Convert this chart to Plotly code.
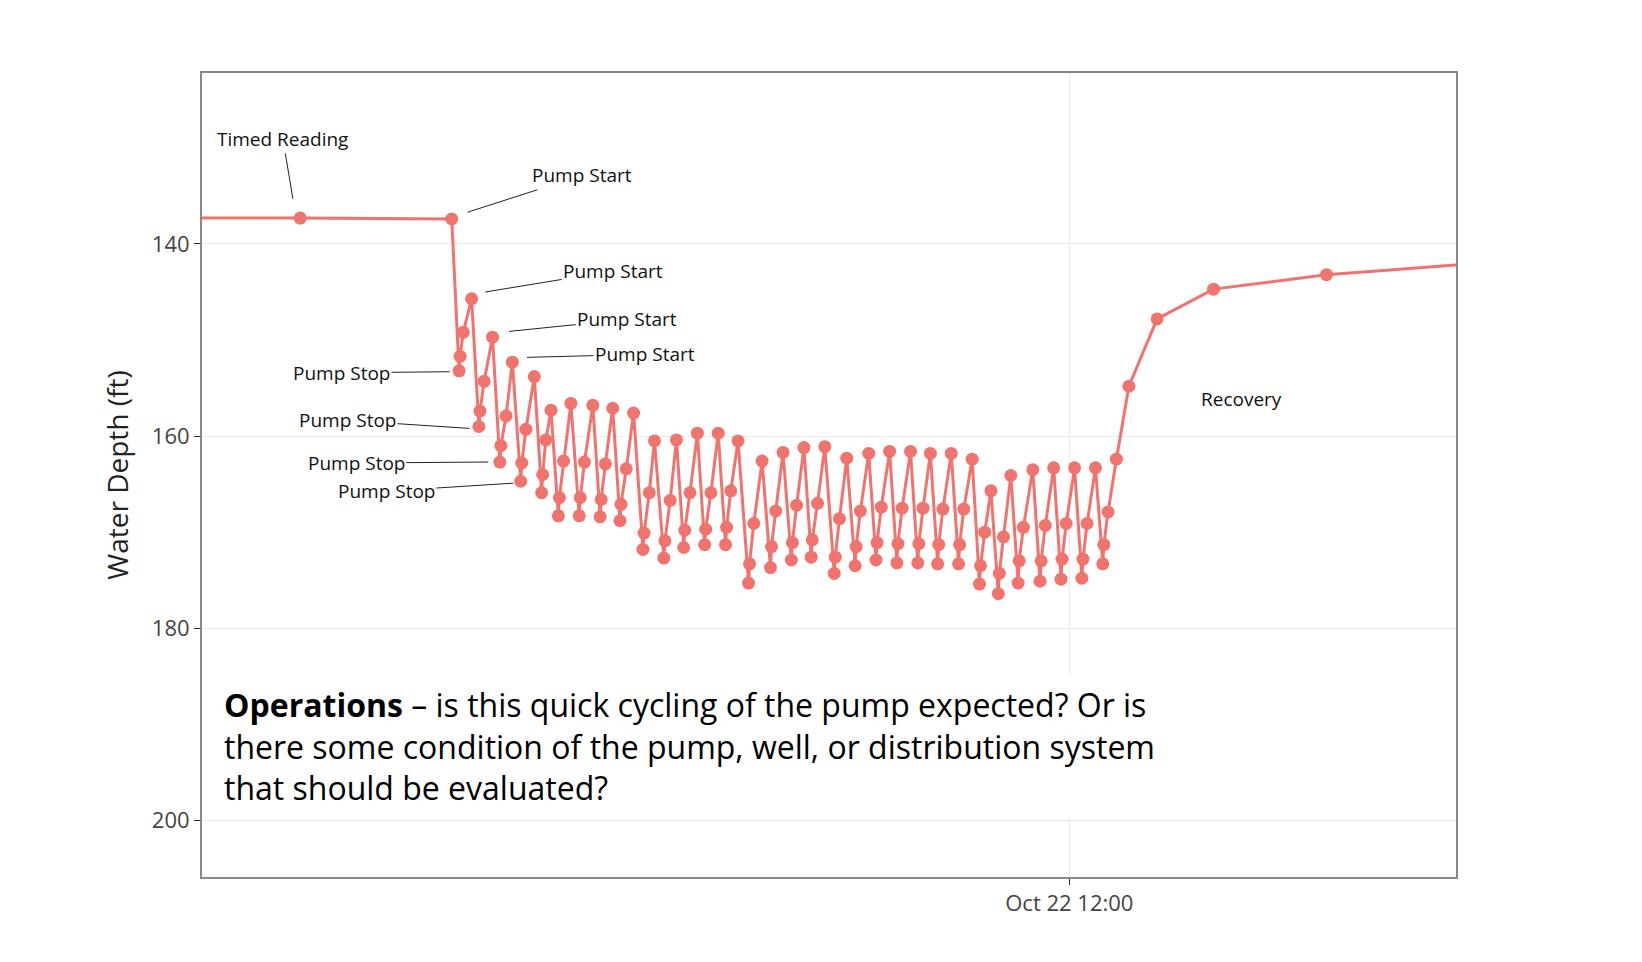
import pandas as pd
import plotly.graph_objects as go

# hours relative to Oct 22 12:00 and water depth (ft)
hours = [
    -17.0, -14.72, -11.82,
    -11.68, -11.66, -11.6, -11.44,
    -11.3, -11.28, -11.2, -11.04,
    -10.9, -10.88, -10.78, -10.66,
    -10.5, -10.48, -10.4, -10.24,
    -10.1, -10.08, -10.02, -9.92,
    -9.78, -9.76, -9.68, -9.54,
    -9.38, -9.36, -9.28, -9.12,
    -8.98, -8.96, -8.88, -8.74,
    -8.6, -8.58, -8.48, -8.34,
    -8.16, -8.14, -8.04, -7.94,
    -7.76, -7.74, -7.64, -7.52,
    -7.38, -7.36, -7.26, -7.12,
    -6.98, -6.96, -6.86, -6.72,
    -6.58, -6.56, -6.48, -6.34,
    -6.14, -6.12, -6.04, -5.88,
    -5.72, -5.7, -5.62, -5.48,
    -5.32, -5.3, -5.22, -5.08,
    -4.94, -4.92, -4.82, -4.68,
    -4.5, -4.48, -4.4, -4.26,
    -4.1, -4.08, -4.0, -3.84,
    -3.7, -3.68, -3.6, -3.44,
    -3.3, -3.28, -3.2, -3.04,
    -2.9, -2.88, -2.8, -2.66,
    -2.52, -2.5, -2.42, -2.26,
    -2.12, -2.1, -2.02, -1.86,
    -1.72, -1.7, -1.62, -1.5,
    -1.36, -1.34, -1.26, -1.12,
    -0.98, -0.96, -0.88, -0.7,
    -0.56, -0.54, -0.46, -0.3,
    -0.16, -0.14, -0.06, 0.1,
    0.24, 0.26, 0.34, 0.5,
    0.64, 0.66, 0.74, 0.9,
    1.14, 1.68, 2.76, 4.92, 7.6,
]
depth = [
    137.3, 137.3, 137.4,
    153.2, 151.7, 149.2, 145.7,
    159.0, 157.4, 154.3, 149.7,
    162.7, 161.0, 157.9, 152.3,
    164.7, 162.8, 159.3, 153.8,
    165.9, 164.0, 160.4, 157.3,
    168.3, 166.4, 162.6, 156.6,
    168.3, 166.4, 162.7, 156.8,
    168.4, 166.6, 162.9, 157.1,
    168.8, 167.1, 163.4, 157.6,
    171.8, 170.1, 165.9, 160.5,
    172.7, 170.9, 166.7, 160.4,
    171.6, 169.8, 165.9, 159.7,
    171.3, 169.7, 165.9, 159.7,
    171.3, 169.5, 165.7, 160.5,
    175.3, 173.3, 169.1, 162.6,
    173.7, 171.5, 167.8, 161.7,
    172.9, 171.1, 167.2, 161.2,
    172.6, 170.8, 167.0, 161.1,
    174.3, 172.6, 168.6, 162.3,
    173.5, 171.5, 167.8, 161.8,
    172.9, 171.1, 167.4, 161.6,
    173.2, 171.2, 167.5, 161.6,
    173.2, 171.2, 167.5, 161.8,
    173.3, 171.3, 167.6, 161.8,
    173.3, 171.3, 167.6, 162.4,
    175.4, 173.5, 170.0, 165.7,
    176.4, 174.3, 170.5, 164.1,
    175.3, 173.0, 169.5, 163.5,
    175.1, 173.0, 169.3, 163.3,
    174.9, 172.8, 169.1, 163.3,
    174.8, 172.8, 169.1, 163.3,
    173.3, 171.3, 167.9, 162.4,
    154.8, 147.8, 144.7, 143.2, 142.1,
]

base = pd.Timestamp("2023-10-22 12:00")
times = [base + pd.Timedelta(hours=h) for h in hours]

def t(h):
    return base + pd.Timedelta(hours=h)

color = "#F0736E"
fig = go.Figure(go.Scatter(
    x=times, y=depth, mode="lines+markers",
    line=dict(color=color, width=3),
    marker=dict(color=color, size=13),
    showlegend=False,
))

lab_font = dict(family="Open Sans", size=19, color="#111")

# label text, arrow tip (hours, depth), text offset (px)
labels = [
    ("Timed Reading", -14.86, 135.3, -10, -60),
    ("Pump Start", -11.52, 136.7, 115, -37),
    ("Pump Start", -11.18, 145.0, 128, -21),
    ("Pump Start", -10.72, 149.1, 118, -12),
    ("Pump Start", -10.38, 151.8, 118, -3),
    ("Pump Stop", -11.86, 153.3, -108, 1),
    ("Pump Stop", -11.48, 159.2, -122, -8),
    ("Pump Stop", -11.12, 162.7, -132, 1),
    ("Pump Stop", -10.64, 164.9, -127, 8),
]
for text, h, d, ax, ay in labels:
    fig.add_annotation(x=t(h), y=d, text=text, ax=ax, ay=ay,
                       showarrow=True, arrowhead=0, arrowwidth=1,
                       arrowcolor="#222", font=lab_font)

fig.add_annotation(x=t(3.3), y=156.1, text="Recovery", showarrow=False, font=lab_font)

fig.add_annotation(
    x=t(-16.35), y=184.8, xanchor="left", yanchor="top", align="left",
    showarrow=False, bgcolor="white", borderpad=8,
    text="<b>Operations</b> – is this quick cycling of the pump expected? Or is<br>"
         "there some condition of the pump, well, or distribution system<br>"
         "that should be evaluated?",
    font=dict(family="Open Sans", size=32, color="#000"),
)

fig.update_layout(
    width=1642, height=962,
    plot_bgcolor="white", paper_bgcolor="white",
    margin=dict(l=194, r=194, t=65, b=93),
    font=dict(family="Open Sans"),
)
fig.update_xaxes(
    range=[t(-16.6), t(7.4)],
    tickvals=[base], ticktext=["Oct 22 12:00"],
    ticks="outside", ticklen=6, tickcolor="#333",
    tickfont=dict(size=22, color="#444"),
    showgrid=True, gridcolor="#EBEBEB",
    showline=True, linecolor="#888", linewidth=2, mirror=True,
)
fig.update_yaxes(
    range=[205.9, 122.2],
    tickvals=[140, 160, 180, 200],
    ticks="outside", ticklen=6, tickcolor="#333",
    tickfont=dict(size=22, color="#444"),
    showgrid=True, gridcolor="#EBEBEB", zeroline=False,
    showline=True, linecolor="#888", linewidth=2, mirror=True,
    title=dict(text="Water Depth (ft)", font=dict(size=28, color="#222")),
)

fig.write_html("out.html")
